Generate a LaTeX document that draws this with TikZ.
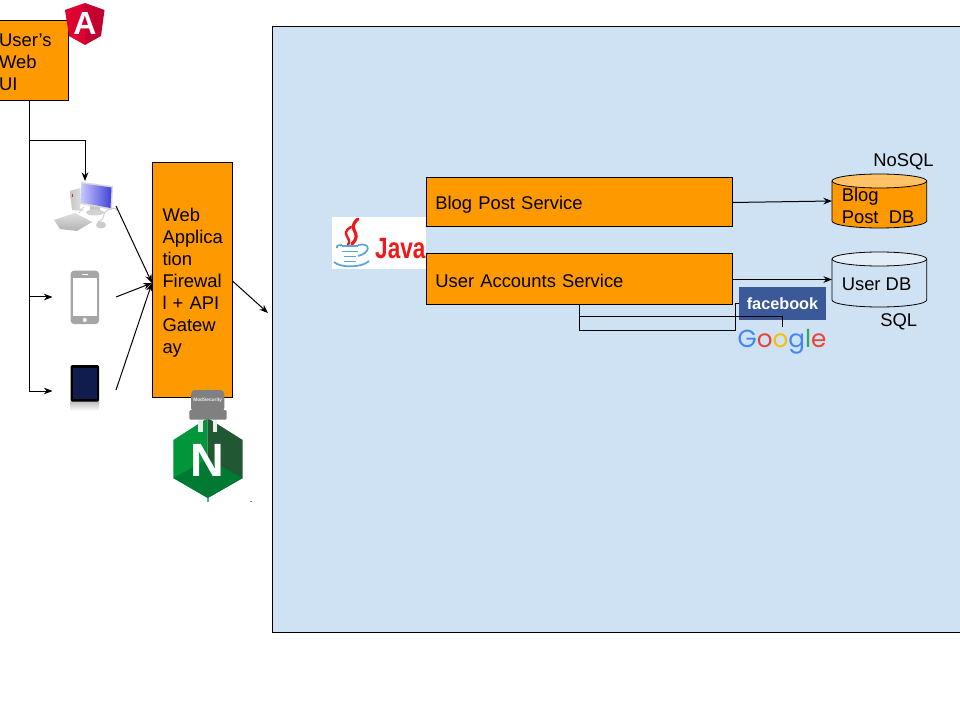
\documentclass[tikz,border=0pt]{standalone}
\usepackage{fontspec}
\setmainfont{Liberation Sans}
\newfontfamily\googlefont{Poppins}
\usetikzlibrary{arrows.meta,positioning}
\definecolor{paneblue}{HTML}{CFE2F3}
\definecolor{boxorange}{HTML}{FF9900}
\definecolor{boxtop}{HTML}{FFC266}
\definecolor{dbtop}{HTML}{E2EDF8}
\definecolor{fbblue}{HTML}{3B5998}
\definecolor{nggreen}{HTML}{009639}
\definecolor{ngdark}{HTML}{215732}
\definecolor{ngbottom}{HTML}{007A33}
\definecolor{plug}{HTML}{808080}
\definecolor{iconGray}{HTML}{A6A6A6}
\definecolor{navyt}{HTML}{101C4E}
\definecolor{javared}{HTML}{F01818}
\definecolor{javablue}{HTML}{5AA5DC}
\definecolor{angleft}{HTML}{DD0031}
\definecolor{angright}{HTML}{C3002F}
\newcommand{\topstrut}[1]{\rule{0pt}{#1}}
\tikzset{
  bodytext/.style={font=\fontsize{13.8}{16.5}\selectfont},
  box/.style={draw=black,fill=boxorange,line width=0.75pt,rectangle,bodytext,align=left,inner ysep=0pt,outer sep=0pt},
  label/.style={bodytext,inner sep=0pt,anchor=base west},
  conn/.style={line width=0.75pt,draw=black},
  tip/.style={conn,-{Stealth[length=6.5pt,width=5pt]}},
  dbnode/.style={rectangle,inner sep=0pt,outer sep=0pt,minimum width=71pt,bodytext,align=left},
}
\begin{document}
\begin{tikzpicture}[x=0.75pt,y=-0.75pt]
\clip (0,0) rectangle (960,720);
\fill[white] (0,0) rectangle (960,720);
% pane
\draw[fill=paneblue,line width=0.75pt] (272.5,27) rectangle (965,632);

% Java logo
\fill[white] (332,217) rectangle (426,269);
\draw[javared,line width=2.4pt,line cap=round] (358,219) .. controls (345,230) and (364,232) .. (352,244);
\draw[javared,line width=1.8pt,line cap=round] (351,227) .. controls (339,234) and (353,238) .. (348,245);
\begin{scope}[javablue,line width=1.3pt]
\draw (342,246) -- (358,246);
\draw (342,251.5) -- (358,251.5);
\draw (344,256.5) -- (356,256.5);
\draw (337,248) .. controls (336,245) and (340,245) .. (342,245);
\draw (358,245) .. controls (371,242) and (371,253) .. (358,256);
\draw (334,262) .. controls (340,268) and (362,268) .. (369,261);
\draw (344,261.5) -- (356,261.5);
\end{scope}
\node[inner sep=0pt,anchor=base west,font=\bfseries\fontsize{22}{22}\selectfont,text=javared,xscale=0.77] (java) at (375,259) {Java};

% services
\node[box,minimum width=229.5pt,minimum height=36.75pt,text width=215.5pt,inner xsep=7pt] (blog) at (579,202.5) {\topstrut{12.9pt}Blog Post Service};
\node[box,minimum width=229.5pt,minimum height=38.25pt,text width=215.5pt,inner xsep=7pt] (user) at (579,279.5) {\topstrut{11.4pt}User Accounts Service};

% databases
\fill[boxorange] (832,181) -- (832,221) arc[start angle=180,end angle=0,x radius=47.35,y radius=7] -- (926.7,181) -- cycle;
\draw[line width=0.6pt] (832,181) -- (832,221) arc[start angle=180,end angle=0,x radius=47.35,y radius=7] -- (926.7,181);
\draw[fill=boxtop,line width=0.6pt] (879.35,181) ellipse[x radius=47.35,y radius=7];
\node[dbnode,minimum height=40.5pt] (blogdb) at (879.35,201) {};
\node[bodytext,align=left,inner sep=0pt,anchor=north west] (blogdbt) at (841.5,188) {Blog\\Post\ \ DB};

\draw[line width=0.6pt,fill=paneblue] (832,259) -- (832,300) arc[start angle=180,end angle=0,x radius=47.35,y radius=7] -- (926.7,259);
\draw[fill=dbtop,line width=0.6pt] (879.35,259) ellipse[x radius=47.35,y radius=7];
\node[dbnode,minimum height=41.25pt] (userdb) at (879.35,279.5) {};
\node[label] (userdbt) at (841.5,291) {User DB};
\node[label] (nosql) at (873,167) {NoSQL};
\node[label] (sql) at (880,326.5) {SQL};

\draw[tip] (blog.east) -- (blogdb.west);
\draw[tip] (user.east) -- (userdb.west);

% facebook
\node[rectangle,fill=fbblue,text=white,minimum width=65.25pt,minimum height=24.75pt,inner sep=0pt,font=\bfseries\fontsize{12.2}{12.2}\selectfont] (fb) at (782.5,303.5) {facebook};
% google
\node[inner sep=0pt,font=\googlefont\fontsize{18.5}{18.5}\selectfont] (google) at (782,342) {\textcolor[HTML]{4285F4}{G}\textcolor[HTML]{EA4335}{o}\textcolor[HTML]{FBBC05}{o}\textcolor[HTML]{4285F4}{g}\textcolor[HTML]{34A853}{l}\textcolor[HTML]{EA4335}{e}};
\coordinate (gtop) at (782,327);
\coordinate (ua) at (579,305);
\draw[conn] (ua) -- (579,330) -- (735.7,330) -- (735.7,303.5) -- (fb.west);
\draw[conn] (579,316.5) -- (782,316.5) -- (gtop);

% user's web UI
\node[box,minimum width=52.5pt,minimum height=60pt,text width=51.5pt,inner xsep=0.5pt] (ui) at (33.5,61) {\topstrut{11.4pt}User’s\\Web\\UI};
% angular
\fill[angleft] (85,3) -- (65,10) -- (69,36) -- (85,45) -- cycle;
\fill[angright] (85,3) -- (104.5,10) -- (101,36) -- (85,45) -- cycle;
\node[inner sep=0pt,text=white,font=\bfseries\fontsize{24}{24}\selectfont] (ng) at (85,23) {A};

% firewall box
\node[box,minimum width=60pt,minimum height=176.25pt,text width=45pt,inner xsep=7.5pt,inner ysep=0pt] (waf) at (192.5,280) {\topstrut{14.4pt}Web\\Applica\\tion\\Firewal\\l + API\\Gatew\\ay};

% computer icon
\shade[left color=gray!45,right color=gray!20] (70,191) -- (80,188) -- (80,208) -- (84,211) -- (72,210) -- cycle;
\fill[red!60!gray] (71.5,194) rectangle (72.5,197);
\fill[gray!45] (90,205) rectangle (100,212);
\fill[gray!35] (95,212.5) ellipse[x radius=9,y radius=3];
\fill[gray!30] (81,182) -- (113,186) -- (112,210) -- (80,204) -- cycle;
\shade[left color=blue!22!white,right color=blue!70!white!85!black] (82,183.5) -- (111.5,187.5) -- (110.5,208) -- (81,202.5) -- cycle;
\shade[top color=gray!25,bottom color=gray!60] (54,220) -- (75,213) -- (92,222) -- (77,231) -- (60,229) -- cycle;
\fill[gray!40] (101,225) ellipse[x radius=5,y radius=3.5];
\draw[gray!40,line width=0.7pt] (98,222) .. controls (108,217) and (100,214) .. (108,210) .. controls (114,207) and (118,208) .. (116,211);
\draw[gray!40,line width=0.5pt] (79,213) -- (84,207);

% phone icon
\fill[iconGray,rounded corners=2.5pt] (70.7,270.7) rectangle (99,324);
\fill[white] (72.7,278) rectangle (96.7,316);
\fill[white] (84.8,320) circle[radius=2];
\draw[white,line width=0.6pt] (82,274.5) -- (87.5,274.5);

% tablet icon
\shade[top color=gray!50,bottom color=white] (70.7,401.7) rectangle (99,411);
\fill[black,rounded corners=1pt] (70.7,365) rectangle (99,401.7);
\fill[navyt] (73,368) rectangle (97,399);

% connectors on the left
\coordinate (pcin) at (85,181);
\coordinate (phonein) at (52.5,297);
\coordinate (tabletin) at (52.5,391);
\coordinate (pcout) at (116,206);
\coordinate (phoneout) at (116,297);
\coordinate (tabletout) at (116,390);
\coordinate (wafin) at (152,283);
\coordinate (wafout) at (268,313);
\coordinate (uidown) at (29,101);
\coordinate (wafeast) at (232.5,281);
\draw[tip] (uidown) -- (29,391) -- (tabletin);
\draw[tip] (29,297) -- (phonein);
\draw[tip] (29,141) -- (85,141) -- (pcin);
\draw[tip] (pcout) -- (wafin);
\draw[tip] (phoneout) -- (wafin);
\draw[tip] (tabletout) -- (wafin);
\draw[tip] (wafeast) -- (wafout);

% nginx + modsecurity
\fill[nggreen] (207.7,418) -- (173.3,440) -- (173.3,478) -- (207.7,498) -- cycle;
\fill[ngdark] (207.7,418) -- (242.7,440) -- (242.7,478) -- (207.7,498) -- cycle;
\fill[ngbottom] (173.3,478) -- (207.7,459) -- (242.7,478) -- (207.7,498) -- cycle;
\fill[nggreen!70!white] (206.7,498) rectangle (208.7,502);
\fill[nggreen!60!white] (206.5,387.5) rectangle (209,390);
\node[inner sep=0pt,text=white,font=\bfseries\fontsize{35}{35}\selectfont] (nginx) at (207.7,460) {N};
\fill[white!85!gray] (198,418) rectangle (203,432);
\fill[white!85!gray] (212.7,418) rectangle (217.3,432);
\fill[plug,rounded corners=3pt] (191,390) rectangle (224.3,412);
\fill[plug,rounded corners=1pt] (189.3,410) rectangle (226.7,419.7);
\node[inner sep=0pt,text=white!85!plug,font=\bfseries\fontsize{3.6}{4}\selectfont] (modsec) at (207.7,400) {ModSecurity};
\fill[gray] (249.5,500.5) rectangle (252,501.2);
\end{tikzpicture}
\end{document}
